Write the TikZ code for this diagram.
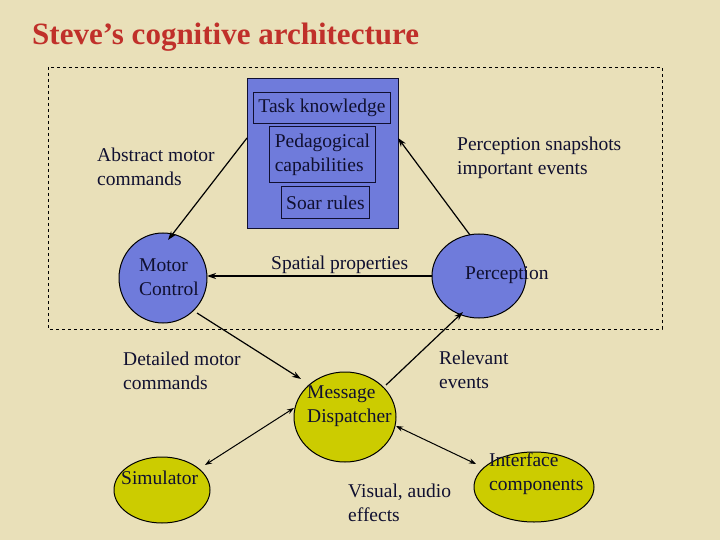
\documentclass[tikz,border=0pt]{standalone}
\usepackage{fontspec}
\setmainfont{Liberation Serif}
\usetikzlibrary{arrows.meta}
\definecolor{bg}{HTML}{E9E0B9}
\definecolor{blu}{HTML}{6F7BDB}
\definecolor{yel}{HTML}{CCCC00}
\definecolor{ttl}{HTML}{C0302A}
\definecolor{ink}{HTML}{101030}
\begin{document}
\begin{tikzpicture}[x=1pt,y=-1pt,
  txt/.style={font=\fontsize{19.5}{24}\selectfont,text=ink},
  lbl/.style={txt,align=left,anchor=north west,inner sep=0},
  box/.style={draw=ink,fill=blu,line width=0.9pt,txt},
  arr/.style={-{Stealth[length=9pt,width=6pt]},line width=1.2pt},
  darr/.style={{Stealth[length=7pt,width=5pt]}-{Stealth[length=7pt,width=5pt]},line width=1pt}]
\fill[bg] (0,0) rectangle (720,540);
\useasboundingbox (0,0) rectangle (720,540);
\node[anchor=west,text=ttl,font=\fontsize{31}{36}\bfseries\selectfont,inner sep=0] (title) at (32,37) {Steve’s cognitive architecture};
\draw[dashed,line width=0.8pt] (48,67) rectangle (662,329);
\node[box,minimum width=151,minimum height=150,anchor=north west,line width=1.1pt] (big) at (247,78) {};
\node[box,minimum width=137,minimum height=31,anchor=north west,inner sep=0] (task) at (253,92) {Task knowledge};
\node[box,minimum width=106,minimum height=56,anchor=north west,inner sep=0,align=left] (ped) at (269,126) {Pedagogical\\capabilities};
\node[box,minimum width=88,minimum height=32,anchor=north west,inner sep=0] (soar) at (281,186) {Soar rules};
\path[draw=black,fill=blu,line width=1pt] (163,278) ellipse[x radius=44,y radius=45];
\path[draw=black,fill=blu,line width=1pt] (479,276) ellipse[x radius=47,y radius=42];
\path[draw=black,fill=yel,line width=1pt] (345,417) ellipse[x radius=51,y radius=45];
\path[draw=black,fill=yel,line width=1pt] (162,490) ellipse[x radius=48,y radius=33];
\path[draw=black,fill=yel,line width=1pt] (534,487) ellipse[x radius=60,y radius=35];
\node[lbl] (motor) at (139,259) {Motor\\Control};
\node[lbl] (perc) at (465,266) {Perception};
\node[lbl] (disp) at (307,386) {Message\\Dispatcher};
\node[lbl] (sim) at (121,471) {Simulator};
\node[lbl] (intf) at (489,453) {Interface\\components};
\coordinate (mT) at (168,240); \coordinate (bL) at (247,138);
\coordinate (pT) at (470,235); \coordinate (bR) at (398,138);
\coordinate (pL) at (432,276); \coordinate (mR) at (207,276);
\coordinate (mB) at (197,313); \coordinate (dTL) at (301,379);
\coordinate (dTR) at (386,385); \coordinate (pB) at (463,312);
\coordinate (dL) at (294,408); \coordinate (sR) at (205,465);
\coordinate (dR) at (396,426); \coordinate (iL) at (476,464);
\draw[arr] (bL) -- (mT);
\draw[arr] (pT) -- (bR);
\draw[arr] (pL) -- (mR);
\draw[arr] (mB) -- (dTL);
\draw[arr] (dTR) -- (pB);
\draw[darr] (sR) -- (dL);
\draw[darr] (dR) -- (iL);
\node[lbl] (l1) at (97,148) {Abstract motor\\commands};
\node[lbl] (l2) at (457,137) {Perception snapshots\\important events};
\node[lbl] (l3) at (271,256) {Spatial properties};
\node[lbl] (l4) at (123,352) {Detailed motor\\commands};
\node[lbl] (l5) at (439,351) {Relevant\\events};
\node[lbl] (l6) at (348,484) {Visual, audio\\effects};
\end{tikzpicture}
\end{document}
